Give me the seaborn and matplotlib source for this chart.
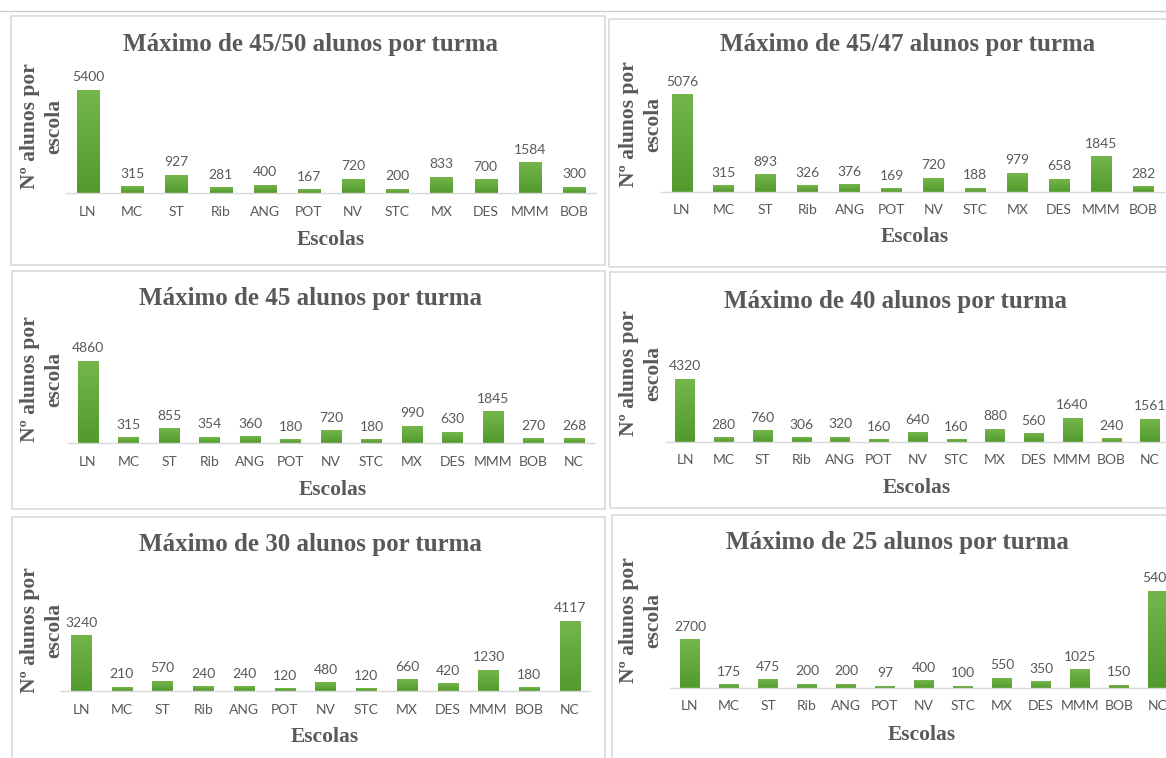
import matplotlib
matplotlib.use("Agg")
import matplotlib.pyplot as plt
import matplotlib.patches as mpatches
from matplotlib.lines import Line2D
from matplotlib.colors import LinearSegmentedColormap
import seaborn as sns
import numpy as np
import pandas as pd

# ----------------------------------------
# Data
# ----------------------------------------
escolas_12 = ["LN", "MC", "ST", "Rib", "ANG", "POT", "NV", "STC", "MX", "DES", "MMM", "BOB"]
escolas_13 = escolas_12 + ["NC"]

max_45_50 = [5400, 315, 927, 281, 400, 167, 720, 200, 833, 700, 1584, 300]
max_45_47 = [5076, 315, 893, 326, 376, 169, 720, 188, 979, 658, 1845, 282]
max_45 = [4860, 315, 855, 354, 360, 180, 720, 180, 990, 630, 1845, 270, 268]
max_40 = [4320, 280, 760, 306, 320, 160, 640, 160, 880, 560, 1640, 240, 1561]
max_30 = [3240, 210, 570, 240, 240, 120, 480, 120, 660, 420, 1230, 180, 4117]
max_25 = [2700, 175, 475, 200, 200, 97, 400, 100, 550, 350, 1025, 150, 5402]

titles = [
    "Máximo de 45/50 alunos por turma",
    "Máximo de 45/47 alunos por turma",
    "Máximo de 45 alunos por turma",
    "Máximo de 40 alunos por turma",
    "Máximo de 30 alunos por turma",
    "Máximo de 25 alunos por turma",
]
series = [max_45_50, max_45_47, max_45, max_40, max_30, max_25]
categories = [escolas_12, escolas_12, escolas_13, escolas_13, escolas_13, escolas_13]

# ----------------------------------------
# Layout (pixels in the 1166x758 canvas)
# first centre, last centre, baseline, px per student,
# title xy, y-label xy, x-label xy, panel box
# ----------------------------------------
layout = [
    dict(c0=88, c1=574, base=193, scale=0.01907, title=(310, 45), ylab=(42, 126), xlab=(331, 240), box=(11, 16, 605, 265)),
    dict(c0=682, c1=1143, base=192, scale=0.01911, title=(908, 45), ylab=(641, 124), xlab=(915, 237), box=(609, 19, 1200, 267)),
    dict(c0=88, c1=574, base=443, scale=0.01687, title=(310, 298), ylab=(42, 379), xlab=(333, 490), box=(12, 271, 605, 509)),
    dict(c0=685, c1=1150, base=442, scale=0.01458, title=(895, 302), ylab=(641, 373), xlab=(917, 488), box=(610, 272, 1200, 508)),
    dict(c0=81, c1=570, base=691, scale=0.0170, title=(310, 545), ylab=(42, 630), xlab=(325, 737), box=(12, 517, 605, 800)),
    dict(c0=690, c1=1158, base=688, scale=0.0179, title=(897, 542), ylab=(641, 620), xlab=(922, 735), box=(612, 515, 1200, 800)),
]

W, H = 1166, 758
text_gray = "#595959"
border_gray = "#d9d9d9"
green_top = "#74b64b"
green_bottom = "#529a2e"

sns.set_style("white")
plt.rcParams["font.family"] = ["Lato", "DejaVu Sans"]

fig = plt.figure(figsize=(W / 100, H / 100), dpi=100)


def fx(px):
    return px / W


def fy(py):
    return 1 - py / H


# top frame line
fig.add_artist(Line2D([0, 1], [fy(11), fy(11)], color="#cccccc", lw=1))

grad = np.linspace(0, 1, 100).reshape(-1, 1)
cmap = LinearSegmentedColormap.from_list("bar_green", [green_bottom, green_top])
serif = dict(family="Liberation Serif", weight="bold", color=text_gray)

for title, vals, cats, lay in zip(titles, series, categories, layout):
    # panel box
    bx0, by0, bx1, by1 = lay["box"]
    fig.add_artist(mpatches.Rectangle(
        (fx(bx0), fy(by1)), fx(bx1 - bx0), (by1 - by0) / H,
        transform=fig.transFigure, fill=False, edgecolor=border_gray, lw=1.2
    ))

    n = len(cats)
    sp = (lay["c1"] - lay["c0"]) / (n - 1)
    left = lay["c0"] - sp / 2
    right = lay["c1"] + sp / 2
    height_px = 130
    ax = fig.add_axes([fx(left), fy(lay["base"]), fx(right - left), height_px / H])
    ax.patch.set_alpha(0)

    df = pd.DataFrame({"Escola": cats, "Alunos": vals})
    sns.barplot(data=df, x="Escola", y="Alunos", color=green_top, width=0.5,
                saturation=1, ax=ax)

    # gradient fill like the Excel bars
    for bar in ax.patches:
        x0, w = bar.get_x(), bar.get_width()
        h = bar.get_height()
        bar.set_alpha(0)
        ax.imshow(grad, extent=[x0, x0 + w, 0, h], origin="lower", cmap=cmap,
                  aspect="auto", zorder=2)

    ax.bar_label(ax.containers[0], padding=5, fontsize=10, color=text_gray)

    ax.set_xlim(-0.5, n - 0.5)
    ax.set_ylim(0, height_px / lay["scale"])
    ax.set_yticks([])
    ax.set_xlabel("")
    ax.set_ylabel("")
    ax.tick_params(axis="x", length=0, pad=9, labelsize=10, labelcolor=text_gray)
    for s in ["left", "top", "right"]:
        ax.spines[s].set_visible(False)
    ax.spines["bottom"].set_color(border_gray)
    ax.spines["bottom"].set_linewidth(1)

    # texts
    tx, ty = lay["title"]
    fig.text(fx(tx), fy(ty), title, ha="center", va="center", size=18, **serif)
    lx, ly = lay["ylab"]
    fig.text(fx(lx), fy(ly), "Nº alunos por\nescola", ha="center", va="center",
             rotation=90, size=15.5, multialignment="center", linespacing=1.3, **serif)
    ex, ey = lay["xlab"]
    fig.text(fx(ex), fy(ey), "Escolas", ha="center", va="center", size=15.5, **serif)

fig.savefig("out.png", dpi=100)
